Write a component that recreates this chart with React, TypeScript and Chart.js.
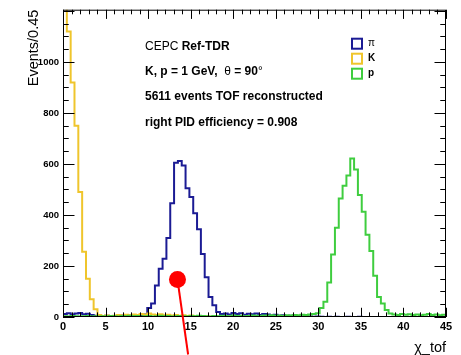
import { useEffect, useRef } from 'react';
import { Chart, registerables } from 'chart.js';

Chart.register(...registerables);

// Histogram binning: 100 bins of width 0.45 on [0, 45]
const BIN_WIDTH = 0.45;
const X_MIN = 0;
const X_MAX = 45;
const Y_MIN = 0;
const Y_MAX = 1205;

const X_TICK_LABELS = [0, 5, 10, 15, 20, 25, 30, 35, 40, 45];
const Y_TICK_LABELS = [0, 200, 400, 600, 800, 1000];
const X_MINOR_STEP = 1;
const Y_MINOR_STEP = 50;

// Events per bin, pion hypothesis
const PION = [
  12, 15, 10, 14, 16, 11, 13, 8, 5, 4,
  3, 5, 2, 4, 3, 6, 4, 5, 3, 6,
  8, 10, 35, 53, 124, 189, 228, 310, 446, 605,
  612, 594, 505, 471, 407, 344, 247, 156, 78, 46,
  20, 12, 14, 10, 16, 12, 15, 9, 13, 11,
  14, 8, 12, 10, 6, 9, 5, 7, 4, 5,
  3, 4, 2, 3, 2, 1, 2, 1, 0, 1,
  0, 1, 0, 0, 1, 0, 0, 1, 0, 0,
  0, 0, 0, 0, 0, 0, 0, 0, 0, 0,
  0, 0, 0, 0, 0, 0, 0, 0, 0, 0,
];

// Events per bin, kaon hypothesis
const KAON = [
  1250, 1120, 920, 750, 490, 256, 150, 70, 30, 8,
  4, 6, 3, 5, 8, 6, 9, 7, 10, 8,
  12, 9, 14, 10, 8, 11, 7, 9, 6, 8,
  5, 7, 4, 6, 3, 4, 2, 3, 1, 2,
  1, 2, 0, 1, 1, 0, 1, 0, 0, 1,
  0, 0, 0, 0, 0, 0, 0, 0, 0, 0,
  0, 0, 0, 0, 0, 0, 0, 0, 0, 0,
  0, 0, 0, 0, 0, 0, 0, 0, 0, 0,
  0, 0, 0, 0, 0, 0, 0, 0, 0, 0,
  0, 0, 0, 0, 0, 0, 0, 0, 0, 0,
];

// Events per bin, proton hypothesis
const PROTON = [
  3, 2, 4, 3, 2, 3, 4, 2, 3, 2,
  3, 2, 4, 3, 2, 4, 3, 5, 3, 4,
  2, 3, 4, 2, 3, 5, 3, 4, 2, 3,
  4, 3, 2, 4, 3, 5, 4, 3, 2, 4,
  3, 5, 4, 3, 6, 4, 5, 3, 4, 6,
  5, 4, 6, 5, 7, 5, 6, 4, 7, 6,
  8, 7, 9, 8, 10, 12, 15, 35, 60, 135,
  245, 350, 465, 515, 555, 622, 578, 478, 413, 323,
  259, 162, 78, 53, 27, 14, 10, 8, 12, 9,
  11, 8, 10, 7, 9, 12, 8, 10, 7, 9,
];

const SERIES_NAMES = ['π', 'K', 'p'];
const SERIES_BOLD = [false, true, true];
const COLORS = ['#1b1b94', '#efc52c', '#3fcd3f'];

const X_TITLE = 'χ_tof';
const Y_TITLE = 'Events/0.45';

// Info block, each line a list of [text, bold] runs
const INFO_LINES: [string, boolean][][] = [
  [['CEPC ', false], ['Ref-TDR', true]],
  [['K, p = 1 GeV,  ', true], ['θ', false], [' = 90', true], ['°', false]],
  [['5611 events TOF reconstructed', true]],
  [['right PID efficiency = 0.908', true]],
];

// Red pointer: dot and the end of its stem, in axis units
const MARKER = { x: 13.45, y: 147 };
const MARKER_STEM_END = { x: 14.7, y: -147 };

const FONT = '"Liberation Sans", Arial, Helvetica, sans-serif';

function toSteps(bins: number[]) {
  const pts = bins.map((v, i) => ({ x: X_MIN + i * BIN_WIDTH, y: v }));
  pts.push({ x: X_MIN + bins.length * BIN_WIDTH, y: bins[bins.length - 1] });
  return pts;
}

function drawRuns(ctx: CanvasRenderingContext2D, x: number, y: number, runs: [string, boolean][], size: number) {
  let cx = x;
  for (const [text, bold] of runs) {
    ctx.font = `${bold ? 'bold ' : ''}${size}px ${FONT}`;
    ctx.fillText(text, cx, y);
    cx += ctx.measureText(text).width;
  }
}

const rootFrame = {
  id: 'rootFrame',
  afterDatasetsDraw(chart: any) {
    const { ctx, chartArea: a, scales } = chart;
    const xs = scales.x;
    const ys = scales.y;
    ctx.save();
    ctx.strokeStyle = '#000';
    ctx.lineWidth = 1;
    ctx.strokeRect(a.left + 0.5, a.top + 0.5, a.right - a.left - 1, a.bottom - a.top - 1);

    const xMajor = (a.bottom - a.top) * 0.03;
    const yMajor = (a.right - a.left) * 0.03;
    ctx.beginPath();
    for (let v = X_MIN; v <= X_MAX + 1e-9; v += X_MINOR_STEP) {
      const px = Math.round(xs.getPixelForValue(v)) + 0.5;
      const len = v % 5 === 0 ? xMajor : xMajor / 2;
      ctx.moveTo(px, a.bottom);
      ctx.lineTo(px, a.bottom - len);
      ctx.moveTo(px, a.top);
      ctx.lineTo(px, a.top + len);
    }
    for (let v = Y_MIN; v <= Y_MAX + 1e-9; v += Y_MINOR_STEP) {
      const py = Math.round(ys.getPixelForValue(v)) + 0.5;
      const len = v % 200 === 0 ? yMajor : yMajor / 2;
      ctx.moveTo(a.left, py);
      ctx.lineTo(a.left + len, py);
      ctx.moveTo(a.right, py);
      ctx.lineTo(a.right - len, py);
    }
    ctx.stroke();
    ctx.restore();
  },
  afterDraw(chart: any) {
    const { ctx, chartArea: a, scales } = chart;
    ctx.save();
    // info text block
    ctx.fillStyle = '#000';
    ctx.textBaseline = 'middle';
    ctx.textAlign = 'left';
    const tx = a.left + 82;
    INFO_LINES.forEach((runs, i) => {
      drawRuns(ctx, tx, a.top + 37 + i * 25.2, runs, 12);
    });

    // legend
    const lx = a.left + 289;
    SERIES_NAMES.forEach((name, i) => {
      const cy = a.top + 34 + i * 15;
      ctx.strokeStyle = COLORS[i];
      ctx.lineWidth = 2;
      ctx.strokeRect(lx, cy - 5, 10, 10);
      ctx.fillStyle = '#000';
      ctx.font = `${SERIES_BOLD[i] ? 'bold ' : ''}10px ${FONT}`;
      ctx.fillText(name, lx + 16, cy);
    });

    // red pointer
    const mx = scales.x.getPixelForValue(MARKER.x);
    const my = scales.y.getPixelForValue(MARKER.y);
    const ex = scales.x.getPixelForValue(MARKER_STEM_END.x);
    const ey = scales.y.getPixelForValue(MARKER_STEM_END.y);
    ctx.strokeStyle = '#f00';
    ctx.lineWidth = 2;
    ctx.beginPath();
    ctx.moveTo(mx, my);
    ctx.lineTo(ex, ey);
    ctx.stroke();
    ctx.fillStyle = '#f00';
    ctx.beginPath();
    ctx.arc(mx, my, 8.5, 0, Math.PI * 2);
    ctx.fill();
    ctx.restore();
  },
};

export default function App() {
  const ref = useRef<HTMLCanvasElement>(null);

  useEffect(() => {
    const canvas = ref.current;
    if (!canvas) return;
    const series = [PION, KAON, PROTON];
    const chart = new Chart(canvas, {
      type: 'line',
      data: {
        datasets: series.map((bins, i) => ({
          label: SERIES_NAMES[i],
          data: toSteps(bins),
          stepped: true,
          borderColor: COLORS[i],
          borderWidth: 2,
          pointRadius: 0,
          fill: false,
          order: [2, 1, 0][i],
        })),
      },
      options: {
        responsive: false,
        animation: false,
        devicePixelRatio: 1,
        parsing: false,
        layout: { padding: { top: 5, right: 15, left: 0, bottom: 0 } },
        plugins: { legend: { display: false }, tooltip: { enabled: false } },
        scales: {
          x: {
            type: 'linear',
            min: X_MIN,
            max: X_MAX,
            afterBuildTicks: (s: any) => { s.ticks = X_TICK_LABELS.map((v) => ({ value: v })); },
            afterFit: (s: any) => { s.height = 38; },
            grid: { display: false, drawTicks: false },
            border: { display: false },
            ticks: {
              autoSkip: false,
              maxRotation: 0,
              padding: 3,
              color: '#000',
              font: { family: FONT, size: 11, weight: 'bold' },
              callback: (v: any) => String(v),
            },
            title: {
              display: true,
              text: X_TITLE,
              align: 'end',
              color: '#000',
              padding: { top: 0, bottom: -1.5 },
              font: { family: FONT, size: 14.5 },
            },
          },
          y: {
            type: 'linear',
            min: Y_MIN,
            max: Y_MAX,
            afterBuildTicks: (s: any) => { s.ticks = Y_TICK_LABELS.map((v) => ({ value: v })); },
            afterFit: (s: any) => { s.width = 63; },
            grid: { display: false, drawTicks: false },
            border: { display: false },
            ticks: {
              autoSkip: false,
              padding: 4,
              color: '#000',
              font: { family: FONT, size: 9.5, weight: 'bold' },
              callback: (v: any) => String(v),
            },
            title: {
              display: true,
              text: Y_TITLE,
              align: 'end',
              color: '#000',
              padding: { top: 25, bottom: 0 },
              font: { family: FONT, size: 14.5 },
            },
          },
        },
      },
      plugins: [rootFrame],
    } as any);
    return () => chart.destroy();
  }, []);

  return (
    <div style={{ position: 'absolute', left: 0, top: 0, width: 461, height: 355, background: '#fff' }}>
      <canvas ref={ref} width={461} height={355} style={{ display: 'block' }} />
    </div>
  );
}
